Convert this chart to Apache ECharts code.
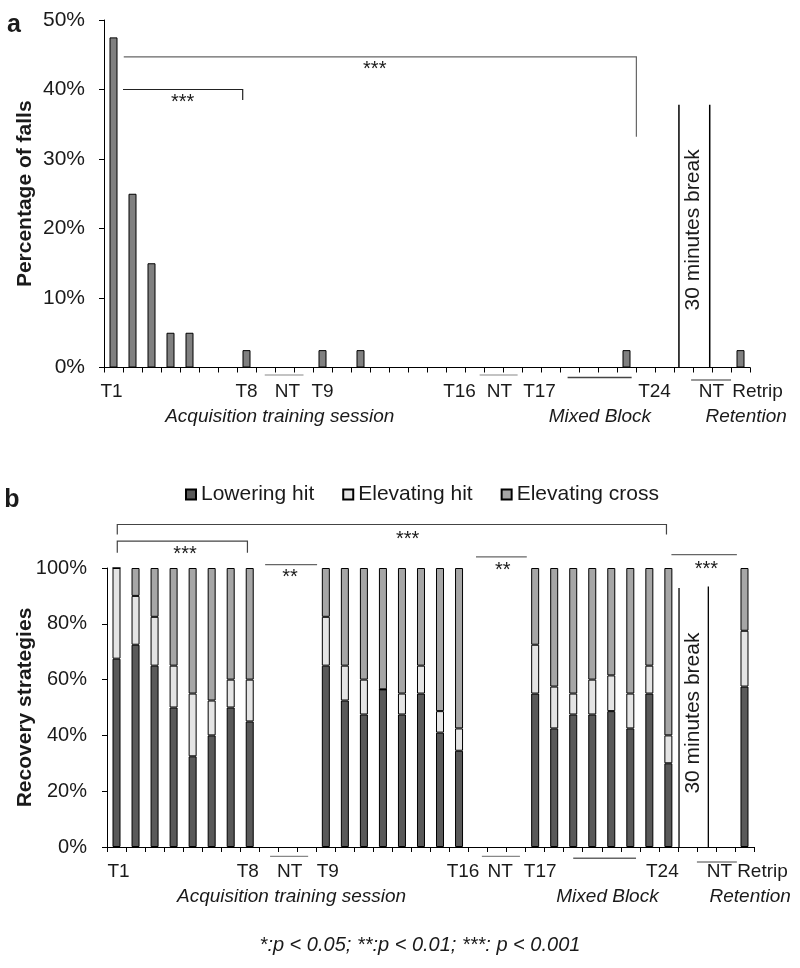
<!DOCTYPE html>
<html><head><meta charset="utf-8">
<script src="https://cdn.jsdelivr.net/npm/echarts@6/dist/echarts.min.js"></script>
<style>html,body{margin:0;padding:0;background:#fff}#c{width:800px;height:968px}</style>
</head><body><div id="c"></div>
<script>
// ---------------- DATA ----------------
const categories = ['T1','T2','T3','T4','T5','T6','T7','T8','NT1a','NT1b','NT1c',
  'T9','T10','T11','T12','T13','T14','T15','T16','NT2a','NT2b','NT2c',
  'T17','T18','T19','T20','T21','T22','T23','T24','NT3a','NT3b','NT3c','Retrip'];
const tickLabels = ['T1','','','','','','','T8','','NT','',
  'T9','','','','','','','T16','','NT','',
  'T17','','','','','','','T24','','NT','','Retrip'];
// panel a: percentage of falls
const fallsPct = [47.5,25,15,5,5,0,0,2.5, null,null,null,
  2.5,0,2.5,0,0,0,0,0, null,null,null,
  0,0,0,0,0,2.5,0,0, null,null,null, 2.5];
// panel b: recovery strategies (segment sizes, %)
const loweringHit = [67.5,72.5,65,50,32.5,40,50,45, null,null,null,
  65,52.5,47.5,56.5,47.5,55,41,34.5, null,null,null,
  55,42.5,47.5,47.5,48.7,42.5,55,30, null,null,null, 57.5];
const elevatingHit = [32.5,17.5,17.5,15,22.5,12.5,10,15, null,null,null,
  17.5,12.5,12.5,0,7.5,10,7.7,8, null,null,null,
  17.5,15,7.5,12.5,12.8,12.5,10,10, null,null,null, 20];
const elevatingCross = [0,10,17.5,35,45,47.5,40,40, null,null,null,
  17.5,35,40,43.5,45,35,51.3,57.5, null,null,null,
  27.5,42.5,45,40,38.5,45,35,60, null,null,null, 22.5];
const legendNames = ['Lowering hit','Elevating hit','Elevating cross'];
const groupLabels = ['Acquisition training session','Mixed Block','Retention'];
const breakText = '30 minutes break';
const footnote = '*:p < 0.05; **:p < 0.01; ***: p < 0.001';

// ---------------- STYLE / LAYOUT ----------------
const FONT = '"Liberation Sans", Arial, sans-serif';
const TXT = '#1a1a1a';
const shiftA = {0:-2, 9:3, 18:4, 20:6, 22:8, 29:-10, 31:9, 33:17};
const shiftB = {0:2, 7:-2, 9:2, 11:2, 18:4, 20:3, 22:5, 29:-6, 31:13, 33:18};

function xAx(gi, shifts){
  const rich = {};
  Object.keys(shifts).forEach(k=>{
    const s = shifts[k];
    rich['s'+k] = {fontSize:19, fontFamily:FONT, color:TXT,
      padding: s>0 ? [0,0,0,2*s] : [0,-2*s,0,0]};
  });
  rich.n = {fontSize:19, fontFamily:FONT, color:TXT};
  return {
    type:'category', gridIndex:gi, data:categories, boundaryGap:true,
    axisLine:{show:true, lineStyle:{color:'#000', width:1}},
    axisTick:{show:true, interval:0, length:5, lineStyle:{color:'#000'}},
    splitLine:{show:false},
    axisLabel:{interval:0, margin:15, fontSize:19, color:TXT, rich:rich,
      formatter:(v,idx)=>{const l=tickLabels[idx]; if(!l) return ''; return (shifts[idx]!==undefined?'{s'+idx+'|':'{n|')+l+'}';}}
  };
}
function yAx(gi, max, interval, name, fs, margin, gap){
  return {
    type:'value', gridIndex:gi, min:0, max:max, interval:interval,
    name:name, nameLocation:'middle', nameGap:gap, nameMoveOverlap:false,
    nameTextStyle:{fontSize:21, fontWeight:'bold', color:TXT, fontFamily:FONT},
    axisLine:{show:true, lineStyle:{color:'#000', width:1}},
    axisTick:{show:true, length:5, lineStyle:{color:'#000'}},
    splitLine:{show:false},
    axisLabel:{formatter:'{value}%', fontSize:fs, margin:margin, color:TXT}
  };
}

const chart = echarts.init(document.getElementById('c'));
const option = {
  animation:false,
  textStyle:{fontFamily:FONT},
  grid:[
    {left:104, top:20, width:646, height:347.5, containLabel:false, outerBoundsMode:'none'},
    {left:107, top:568, width:647, height:279, containLabel:false, outerBoundsMode:'none'}
  ],
  legend:{data:legendNames, left:180, top:479, itemWidth:10, itemHeight:10, itemGap:28,
    icon:'rect', textStyle:{fontSize:21, color:TXT, fontFamily:FONT}},
  xAxis:[xAx(0, shiftA), xAx(1, shiftB)],
  yAxis:[yAx(0, 50, 10, 'Percentage of falls', 21, 19, 68),
         yAx(1, 100, 20, 'Recovery strategies', 20, 20, 71)],
  series:[
    {type:'bar', name:'Falls', xAxisIndex:0, yAxisIndex:0, data:fallsPct, barWidth:8,
      itemStyle:{color:'#808080', borderColor:'#000', borderWidth:1}},
    {type:'bar', name:legendNames[0], xAxisIndex:1, yAxisIndex:1, stack:'s', data:loweringHit, barWidth:8,
      itemStyle:{color:'#595959', borderColor:'#000', borderWidth:1}},
    {type:'bar', name:legendNames[1], xAxisIndex:1, yAxisIndex:1, stack:'s', data:elevatingHit, barWidth:8,
      itemStyle:{color:'#e4e4e4', borderColor:'#000', borderWidth:1}},
    {type:'bar', name:legendNames[2], xAxisIndex:1, yAxisIndex:1, stack:'s', data:elevatingCross, barWidth:8,
      itemStyle:{color:'#a6a6a6', borderColor:'#000', borderWidth:1}}
  ]
};
chart.setOption(option);

// ------------- annotations anchored to axes -------------
function mapper(g){
  const o = chart.convertToPixel({gridIndex:g}, [0,0]);
  const o1 = chart.convertToPixel({gridIndex:g}, [1,0]);
  const step = o1[0]-o[0];
  return (i,v)=>[o[0]+i*step, chart.convertToPixel({gridIndex:g},[0,v])[1]];
}
const ma = mapper(0), mb = mapper(1);
const G = [];
function poly(m, pts, color, w){
  G.push({type:'polyline', silent:true, shape:{points:pts.map(p=>m(p[0],p[1]))},
    style:{stroke:color, lineWidth:w, fill:null}});
}
function under(m, i1, i2, dy, color, w){
  const a=m(i1,0), b=m(i2,0);
  G.push({type:'line', silent:true, shape:{x1:a[0],y1:a[1]+dy,x2:b[0],y2:b[1]+dy}, style:{stroke:color, lineWidth:w}});
}
function text(x,y,t,o){
  G.push({type:'text', silent:true, x:x, y:y, rotation:o.rot||0,
    style:{text:t, fill:TXT, font:(o.style||'normal')+' '+(o.weight||'normal')+' '+o.size+'px '+FONT,
      align:o.align||'center', verticalAlign:'middle'}});
}
function stars(m,i,v,t){ const p=m(i,v); text(p[0], p[1]+4.6, t, {size:20}); }
function group(m,i,dy,t){ const p=m(i,0); text(p[0], p[1]+dy, t, {size:19, style:'italic'}); }

// panel a
poly(ma, [[0.5,40],[6.8,40],[6.8,38.5]], '#222', 1.2);
stars(ma, 3.64, 38.8, '***');
poly(ma, [[0.54,44.7],[27.52,44.7],[27.52,33.2]], '#666', 1.2);
stars(ma, 13.75, 43.5, '***');
poly(ma, [[29.76,37.8],[29.76,0]], '#000', 1.5);
poly(ma, [[31.38,37.8],[31.38,0]], '#000', 1.5);
(()=>{const p=ma(30.53,19.8); text(p[0],p[1],breakText,{size:21, rot:Math.PI/2});})();
under(ma, 7.96, 10.0, 7.5, '#888', 1.2);
under(ma, 19.27, 21.27, 7.5, '#888', 1.2);
under(ma, 23.9, 27.27, 10, '#444', 1.5);
under(ma, 30.4, 32.5, 12.5, '#333', 1.2);
group(ma, 8.75, 49.5, groupLabels[0]);
group(ma, 25.6, 49.5, groupLabels[1]);
group(ma, 33.3, 49.5, groupLabels[2]);

// panel b
poly(mb, [[0.04,112],[0.04,115.6],[28.9,115.6],[28.9,112]], '#444', 1.2);
stars(mb, 15.3, 112, '***');
poly(mb, [[0.04,105.5],[0.04,109.6],[6.88,109.6],[6.88,105.5]], '#444', 1.2);
stars(mb, 3.6, 106.6, '***');
poly(mb, [[7.81,101.2],[10.54,101.2]], '#666', 1.2);
stars(mb, 9.12, 98.4, '**');
poly(mb, [[18.89,104],[21.56,104]], '#666', 1.2);
stars(mb, 20.3, 100.9, '**');
poly(mb, [[29.16,104.8],[32.6,104.8]], '#666', 1.2);
stars(mb, 31.0, 101.2, '***');
poly(mb, [[29.56,92.8],[29.56,0]], '#000', 1.3);
poly(mb, [[31.1,93.4],[31.1,0]], '#000', 1.3);
(()=>{const p=mb(30.28,48); text(p[0],p[1],breakText,{size:21, rot:Math.PI/2});})();
under(mb, 8.07, 10.07, 9.3, '#888', 1.2);
under(mb, 19.2, 21.2, 9.3, '#888', 1.2);
under(mb, 24.0, 27.3, 11.3, '#666', 1.5);
under(mb, 30.5, 32.6, 15, '#444', 1.2);
group(mb, 9.2, 50, groupLabels[0]);
group(mb, 25.8, 50, groupLabels[1]);
group(mb, 33.3, 50, groupLabels[2]);

// panel letters and footnote
text(14, 25, 'a', {size:25, weight:'bold'});
text(12, 500, 'b', {size:25, weight:'bold'});
text(420, 945, footnote, {size:20, style:'italic'});

chart.setOption({graphic:{elements:G}});
</script></body></html>
